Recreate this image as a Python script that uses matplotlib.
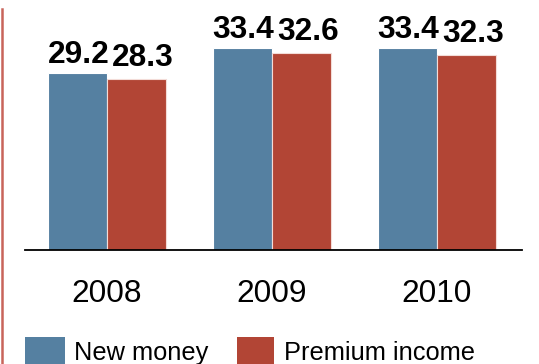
import matplotlib
matplotlib.use("Agg")
import matplotlib.pyplot as plt
from matplotlib.patches import Rectangle
from matplotlib.lines import Line2D
import numpy as np

years = ["2008", "2009", "2010"]
new_money = [29.2, 33.4, 33.4]
premium_income = [28.3, 32.6, 32.3]
series_names = ["New money", "Premium income"]
colors = ["#5580A1", "#B24535"]

plt.rcParams["font.family"] = ["Liberation Sans", "DejaVu Sans"]

W, H = 539, 364
fig = plt.figure(figsize=(W / 100, H / 100), dpi=100)

# axes box in pixel terms: x 25..522, baseline at y=249.5 from top
ax_left, ax_right, ax_base = 25, 522, 249.5
ax = fig.add_axes([ax_left / W, (H - ax_base) / H, (ax_right - ax_left) / W, ax_base / H])
ax.set_xlim(-0.497, 2.515)
ax.set_ylim(0, ax_base / 6.03)

x = np.arange(len(years))
bw = 0.36
b1 = ax.bar(x - bw / 2, new_money, bw, color=colors[0], edgecolor="white", linewidth=0.8)
b2 = ax.bar(x + bw / 2, premium_income, bw, color=colors[1], edgecolor="#f3dcd8", linewidth=0.8)

for rect, v in zip(b1, new_money):
    ax.annotate(f"{v:.1f}", (rect.get_x() + rect.get_width() / 2, v),
                xytext=(1, 10), textcoords="offset pixels",
                ha="center", va="baseline", fontsize=22.8, fontweight="bold")
for rect, v in zip(b2, premium_income):
    ax.annotate(f"{v:.1f}", (rect.get_x() + rect.get_width() / 2, v),
                xytext=(6, 13), textcoords="offset pixels",
                ha="center", va="baseline", fontsize=22.8, fontweight="bold")

for s in ["top", "right", "left"]:
    ax.spines[s].set_visible(False)
ax.spines["bottom"].set_linewidth(1.3)
ax.spines["bottom"].set_color("black")
ax.set_yticks([])
ax.set_xticks(x)
ax.set_xticklabels(years, fontsize=22.8)
ax.tick_params(axis="x", length=0, pad=21)

# red rule down the left edge
fig.add_artist(Line2D([1.8 / W, 1.8 / W], [0, 1 - 9 / H], transform=fig.transFigure,
                      color="#C8645A", linewidth=1.8))

# legend: coloured squares with labels underneath the axis
leg_items = [(25, 65, 76), (237, 274, 286)]
for (x0, x1, tx), name, c in zip(leg_items, series_names, colors):
    fig.add_artist(Rectangle((x0 / W, 0), (x1 - x0) / W, (H - 337) / H,
                             transform=fig.transFigure, facecolor=c, edgecolor="none"))
    fig.text((tx - 2) / W, (H - 360) / H, name, fontsize=18.3, ha="left", va="baseline")

fig.savefig("out.png", dpi=100)
